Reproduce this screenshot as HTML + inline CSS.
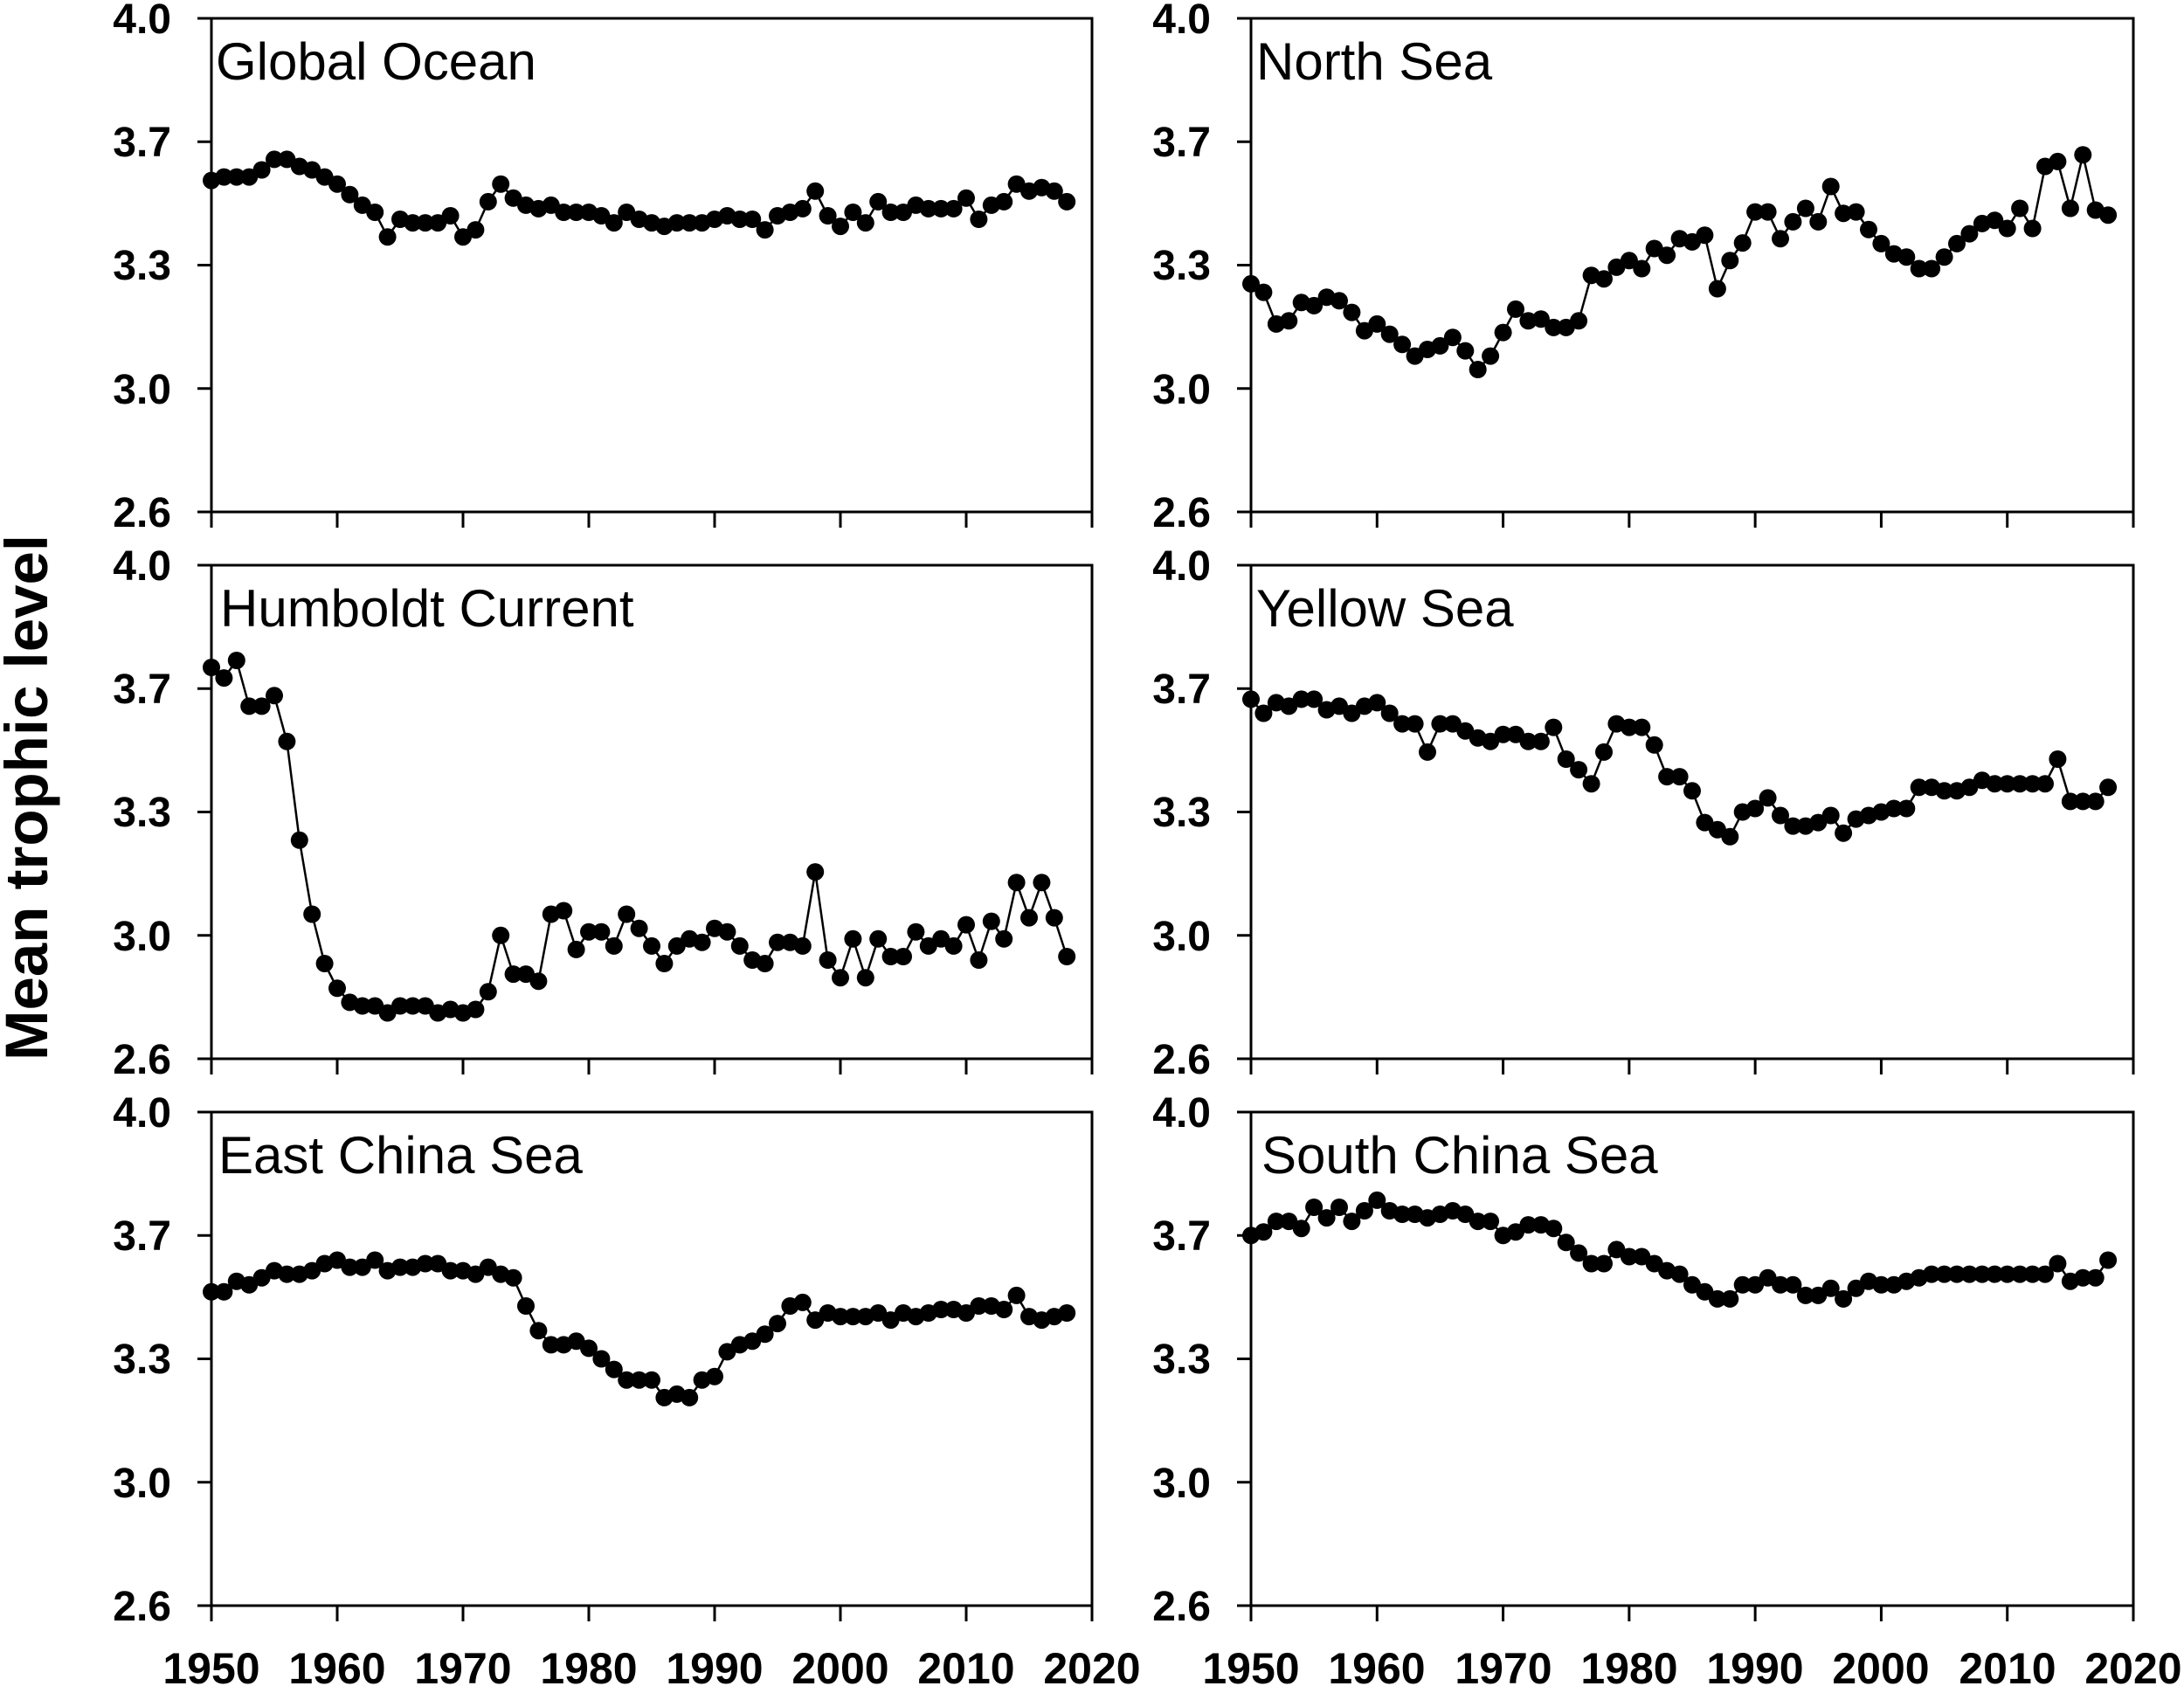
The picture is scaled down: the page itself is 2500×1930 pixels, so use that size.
<!DOCTYPE html>
<html><head><meta charset="utf-8"><style>
html,body{margin:0;padding:0;background:#fff;}
svg{display:block;}
.t{font-family:"Liberation Sans",Arial,sans-serif;font-weight:bold;font-size:48px;fill:#000;}
.x{font-family:"Liberation Sans",Arial,sans-serif;font-weight:bold;font-size:50px;fill:#000;}
.ti{font-family:"Liberation Sans",Arial,sans-serif;font-size:60px;fill:#000;}
</style></head><body>
<svg id="s" width="2500" height="1930" viewBox="0 0 2500 1930" xmlns="http://www.w3.org/2000/svg">
<g id="g"></g>
<text class="t" transform="translate(54,913) rotate(-90)" text-anchor="middle" style="font-size:69px">Mean trophic level</text>
<text class="ti" x="247" y="91">Global Ocean</text>
<text class="ti" x="1438" y="91">North Sea</text>
<text class="ti" x="252" y="717">Humboldt Current</text>
<text class="ti" x="1438" y="717">Yellow Sea</text>
<text class="ti" x="250" y="1343">East China Sea</text>
<text class="ti" x="1444" y="1343">South China Sea</text>
<g text-anchor="end" class="t">
<text x="196" y="38">4.0</text><text x="196" y="179">3.7</text><text x="196" y="320">3.3</text><text x="196" y="462">3.0</text><text x="196" y="603">2.6</text>
<text x="196" y="664">4.0</text><text x="196" y="805">3.7</text><text x="196" y="946">3.3</text><text x="196" y="1088">3.0</text><text x="196" y="1229">2.6</text>
<text x="196" y="1290">4.0</text><text x="196" y="1431">3.7</text><text x="196" y="1572">3.3</text><text x="196" y="1714">3.0</text><text x="196" y="1855">2.6</text>
<text x="1386" y="38">4.0</text><text x="1386" y="179">3.7</text><text x="1386" y="320">3.3</text><text x="1386" y="462">3.0</text><text x="1386" y="603">2.6</text>
<text x="1386" y="664">4.0</text><text x="1386" y="805">3.7</text><text x="1386" y="946">3.3</text><text x="1386" y="1088">3.0</text><text x="1386" y="1229">2.6</text>
<text x="1386" y="1290">4.0</text><text x="1386" y="1431">3.7</text><text x="1386" y="1572">3.3</text><text x="1386" y="1714">3.0</text><text x="1386" y="1855">2.6</text>
</g>
<g text-anchor="middle" class="x">
<text x="242" y="1927">1950</text><text x="386" y="1927">1960</text><text x="530" y="1927">1970</text><text x="674" y="1927">1980</text><text x="818" y="1927">1990</text><text x="962" y="1927">2000</text><text x="1106" y="1927">2010</text><text x="1250" y="1927">2020</text>
<text x="1432" y="1927">1950</text><text x="1576" y="1927">1960</text><text x="1721" y="1927">1970</text><text x="1865" y="1927">1980</text><text x="2009" y="1927">1990</text><text x="2153" y="1927">2000</text><text x="2298" y="1927">2010</text><text x="2442" y="1927">2020</text>
</g>
</svg>
<script>
var D=[
[3.54,3.55,3.55,3.55,3.57,3.60,3.60,3.58,3.57,3.55,3.53,3.50,3.47,3.45,3.38,3.43,3.42,3.42,3.42,3.44,3.38,3.40,3.48,3.53,3.49,3.47,3.46,3.47,3.45,3.45,3.45,3.44,3.42,3.45,3.43,3.42,3.41,3.42,3.42,3.42,3.43,3.44,3.43,3.43,3.40,3.44,3.45,3.46,3.51,3.44,3.41,3.45,3.42,3.48,3.45,3.45,3.47,3.46,3.46,3.46,3.49,3.43,3.47,3.48,3.53,3.51,3.52,3.51,3.48],
[3.247,3.223,3.133,3.142,3.194,3.185,3.209,3.199,3.166,3.114,3.133,3.104,3.075,3.042,3.061,3.071,3.095,3.057,3.004,3.042,3.109,3.175,3.142,3.147,3.123,3.123,3.142,3.271,3.261,3.294,3.313,3.290,3.347,3.328,3.375,3.366,3.385,3.233,3.313,3.363,3.451,3.451,3.375,3.423,3.461,3.423,3.523,3.447,3.451,3.401,3.361,3.332,3.323,3.290,3.290,3.323,3.361,3.389,3.418,3.427,3.404,3.461,3.404,3.580,3.594,3.461,3.613,3.456,3.442],
[3.71,3.68,3.73,3.60,3.60,3.63,3.50,3.22,3.01,2.87,2.80,2.76,2.75,2.75,2.73,2.75,2.75,2.75,2.73,2.74,2.73,2.74,2.79,2.95,2.84,2.84,2.82,3.01,3.02,2.91,2.96,2.96,2.92,3.01,2.97,2.92,2.87,2.92,2.94,2.93,2.97,2.96,2.92,2.88,2.87,2.93,2.93,2.92,3.13,2.88,2.83,2.94,2.83,2.94,2.89,2.89,2.96,2.92,2.94,2.92,2.98,2.88,2.99,2.94,3.10,3.00,3.10,3.00,2.89],
[3.62,3.58,3.61,3.60,3.62,3.62,3.59,3.60,3.58,3.60,3.61,3.58,3.55,3.55,3.47,3.55,3.55,3.53,3.51,3.50,3.52,3.52,3.50,3.50,3.54,3.45,3.42,3.38,3.47,3.55,3.54,3.54,3.49,3.40,3.40,3.36,3.27,3.25,3.23,3.30,3.31,3.34,3.29,3.26,3.26,3.27,3.29,3.24,3.28,3.29,3.30,3.31,3.31,3.37,3.37,3.36,3.36,3.37,3.39,3.38,3.38,3.38,3.38,3.38,3.45,3.33,3.33,3.33,3.37],
[3.49,3.49,3.52,3.51,3.53,3.55,3.54,3.54,3.55,3.57,3.58,3.56,3.56,3.58,3.55,3.56,3.56,3.57,3.57,3.55,3.55,3.54,3.56,3.54,3.53,3.45,3.38,3.34,3.34,3.35,3.33,3.30,3.27,3.24,3.24,3.24,3.19,3.20,3.19,3.24,3.25,3.32,3.34,3.35,3.37,3.40,3.45,3.46,3.41,3.43,3.42,3.42,3.42,3.43,3.41,3.43,3.42,3.43,3.44,3.44,3.43,3.45,3.45,3.44,3.48,3.42,3.41,3.42,3.43],
[3.65,3.66,3.69,3.69,3.67,3.73,3.70,3.73,3.69,3.72,3.75,3.72,3.71,3.71,3.70,3.71,3.72,3.71,3.69,3.69,3.65,3.66,3.68,3.68,3.67,3.63,3.60,3.57,3.57,3.61,3.59,3.59,3.57,3.55,3.54,3.51,3.49,3.47,3.47,3.51,3.51,3.53,3.51,3.51,3.48,3.48,3.50,3.47,3.50,3.52,3.51,3.51,3.52,3.53,3.54,3.54,3.54,3.54,3.54,3.54,3.54,3.54,3.54,3.54,3.57,3.52,3.53,3.53,3.58]];
var L=[242,1432],W=[1008,1010],T=[21,647,1273],H=565;
var h='';
for(var p=0;p<6;p++){
 var c=p%2,r=Math.floor(p/2),x0=L[c],w=W[c],y0=T[r];
 h+='<rect x="'+x0+'" y="'+y0+'" width="'+w+'" height="'+H+'" fill="none" stroke="#000" stroke-width="3"/>';
 for(var i=0;i<5;i++){var yy=y0+H*i/4;h+='<line x1="'+(x0-16)+'" x2="'+x0+'" y1="'+yy+'" y2="'+yy+'" stroke="#000" stroke-width="3"/>';}
 for(var i=0;i<8;i++){var xx=x0+w*i/7;h+='<line x1="'+xx+'" x2="'+xx+'" y1="'+(y0+H)+'" y2="'+(y0+H+18)+'" stroke="#000" stroke-width="3"/>';}
 var pts=[],cs='';
 for(var k=0;k<D[p].length;k++){var px=x0+w*k/70,py=y0+(4.0-D[p][k])/1.4*H;pts.push(px.toFixed(1)+','+py.toFixed(1));cs+='<circle cx="'+px.toFixed(1)+'" cy="'+py.toFixed(1)+'" r="10"/>';}
 h+='<polyline points="'+pts.join(' ')+'" fill="none" stroke="#000" stroke-width="2.5"/>'+cs;
}
document.getElementById('g').innerHTML=h;
</script>
</body></html>
